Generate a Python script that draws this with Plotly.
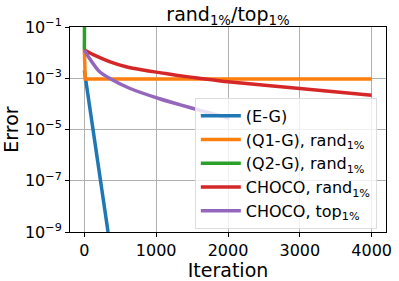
import plotly.graph_objects as go

eg_it = [0, 330]
eg_val = [10**-2.7, 1e-9]

q1_it = [0, 12, 4000]
q1_val = [10**-1.9, 10**-3.03, 10**-3.03]

q2_it = [0, 8]
q2_val = [10**-1.9, 1e2]

cr_it = [0, 116, 349, 581, 814, 1046, 1300, 1600, 2000, 3000, 4000]
cr_val = [10**v for v in [-1.9, -2.07, -2.35, -2.55, -2.68, -2.78, -2.89, -3.0, -3.14, -3.40, -3.66]]

ct_it = [0, 70, 209, 349, 628, 1046, 1325, 1604, 2020]
ct_val = [10**v for v in [-1.9, -2.22, -2.74, -3.0, -3.39, -3.8, -4.03, -4.25, -4.56]]

ytick_vals = [1e-9, 1e-7, 1e-5, 1e-3, 1e-1]
ytick_text = ["10<sup>\u22129</sup>", "10<sup>\u22127</sup>", "10<sup>\u22125</sup>",
              "10<sup>\u22123</sup>", "10<sup>\u22121</sup>"]
xtick_vals = [0, 1000, 2000, 3000, 4000]

series = [
    ("(E-G)", eg_it, eg_val, "#1f77b4", "linear"),
    ("(Q1-G), rand<sub>1%</sub>", q1_it, q1_val, "#ff7f0e", "linear"),
    ("(Q2-G), rand<sub>1%</sub>", q2_it, q2_val, "#2ca02c", "linear"),
    ("CHOCO, rand<sub>1%</sub>", cr_it, cr_val, "#d62728", "spline"),
    ("CHOCO, top<sub>1%</sub>", ct_it, ct_val, "#9467bd", "spline"),
]

fig = go.Figure()
for name, x, y, c, shp in series:
    fig.add_trace(go.Scatter(x=x, y=y, mode="lines", name=name,
                             line=dict(color=c, width=3.5, shape=shp, smoothing=0.6)))

font = "DejaVu Sans, sans-serif"
fig.update_layout(
    width=399, height=281,
    margin=dict(l=70, r=13, t=27, b=49),
    paper_bgcolor="white", plot_bgcolor="white",
    font=dict(family=font, size=16, color="black"),
    title=dict(text="rand<sub>1%</sub>/top<sub>1%</sub>", x=(70+386)/2/399, xanchor="center",
               y=1 - 14/281, yanchor="middle", font=dict(size=19)),
    showlegend=True,
    legend=dict(x=0.395, y=0.655, xanchor="left", yanchor="top",
                bgcolor="rgba(255,255,255,0.8)", bordercolor="#dddddd", borderwidth=1,
                font=dict(size=16), tracegroupgap=0, itemwidth=40),
)
fig.update_xaxes(range=[-200, 4200], tickvals=xtick_vals, showgrid=True, gridcolor="#b0b0b0",
                 gridwidth=1, showline=True, linecolor="black", linewidth=1, mirror=True,
                 ticks="outside", ticklen=4, tickcolor="black", zeroline=False, automargin=False,
                 title=dict(text="Iteration", standoff=0))
fig.update_yaxes(type="log", range=[-9, -1], tickvals=ytick_vals, ticktext=ytick_text,
                 showgrid=True, gridcolor="#b0b0b0", gridwidth=1, showline=True,
                 linecolor="black", linewidth=1, mirror=True, ticks="outside", ticklen=4,
                 tickcolor="black", zeroline=False, automargin=False,
                 title=dict(text="Error", standoff=4))

fig.write_html("out.html", config={"displayModeBar": False},
               post_script="document.body.style.margin='0';document.body.style.overflow='hidden';")
